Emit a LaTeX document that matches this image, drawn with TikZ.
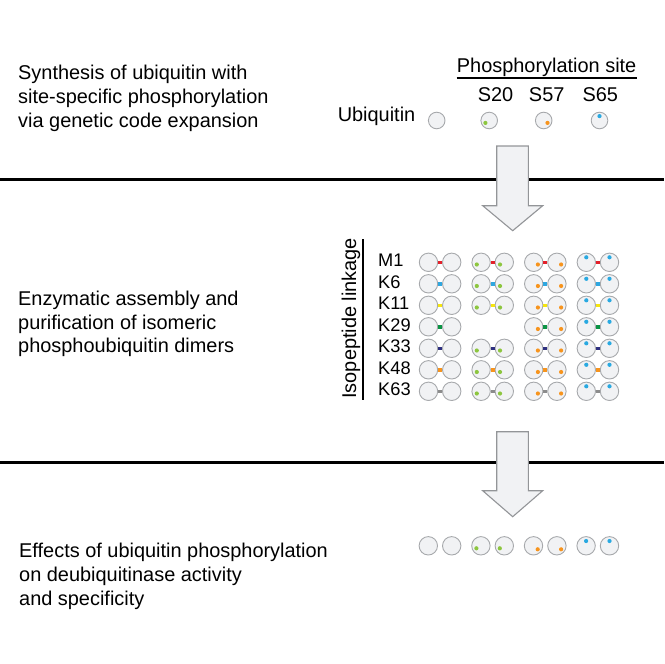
\documentclass[tikz,border=0pt]{standalone}
\usepackage{fontspec}
\setmainfont{Liberation Sans}
\definecolor{ubfill}{HTML}{F1F2F4}
\definecolor{ubline}{HTML}{A7A9AC}
\definecolor{arrline}{HTML}{939598}
\definecolor{lkred}{HTML}{E3202A}
\definecolor{lkblue}{HTML}{2FA7E0}
\definecolor{lkyellow}{HTML}{F5E50F}
\definecolor{lkgreen}{HTML}{0B9445}
\definecolor{lknavy}{HTML}{2E3080}
\definecolor{lkorange}{HTML}{F7941D}
\definecolor{lkgray}{HTML}{8C8C8C}
\definecolor{pgreen}{HTML}{8DC63F}
\definecolor{porange}{HTML}{F7941D}
\definecolor{pblue}{HTML}{29A9E1}
\begin{document}
\begin{tikzpicture}[x=1bp, y=-1bp,
        ub/.style={circle, draw=ubline, fill=ubfill, line width=0.9bp, minimum size=18.4bp, inner sep=0pt},
        ubmono/.style={ub, minimum size=16.6bp},
        site/.style={circle, fill=#1, inner sep=0pt, minimum size=4.2bp},
        link/.style={line width=3.4bp, draw=#1},
        txt/.style={font=\fontsize{20}{24}\selectfont, inner sep=0pt},
        steptext/.style={txt, align=left, anchor=north west},
        rowlbl/.style={font=\fontsize{18.3}{20}\selectfont, inner sep=0pt, anchor=base west},
        bigarrow/.style={draw=arrline, fill=ubfill, line width=1.1bp, line join=miter}]
    \useasboundingbox (0,0) rectangle (664,664);
    % section rules
    \draw[line width=3bp] (0,179.3) -- (664,179.3);
    \draw[line width=3bp] (0,462.3) -- (664,462.3);
    % step descriptions
    \node[steptext] (step1) at (18,65) {Synthesis of ubiquitin with\\site-specific phosphorylation\\via genetic code expansion};
    \node[steptext] (step2) at (18,290.5) {Enzymatic assembly and\\purification of isomeric\\phosphoubiquitin dimers};
    \node[steptext] (step3) at (19,543) {Effects of ubiquitin phosphorylation\\on deubiquitinase activity\\and specificity};
    % monomers
    \node[txt, anchor=base west] (phos) at (456.7,72.7) {Phosphorylation site};
    \draw[line width=1.6bp] ([yshift=-5.6bp]phos.base west) -- ([yshift=-5.6bp]phos.base east);
    \node[txt, anchor=base east] (ublbl) at (415.5,121.7) {Ubiquitin};
    \node[txt, anchor=base] (s20) at (495.5,101.7) {S20};
    \node[txt, anchor=base] (s57) at (546.7,101.7) {S57};
    \node[txt, anchor=base] (s65) at (600.3,101.7) {S65};
    \node[ubmono] (m0) at (436.7,120.5) {};
    \node[ubmono] (m1) at (489.2,120.5) {};
    \node[ubmono] (m2) at (543.7,120.5) {};
    \node[ubmono] (m3) at (599.5,120.5) {};
    \node[site=pgreen] (m1p) at ([shift={(-3.8,2.4)}]m1.center) {};
    \node[site=porange] (m2p) at ([shift={(3.8,2.4)}]m2.center) {};
    \node[site=pblue] (m3p) at ([shift={(0,-4.4)}]m3.center) {};
    % arrows
    \draw[bigarrow] (496.7,146) -- (528.3,146) -- (528.3,205.7) -- (542.7,205.7) -- (512.7,230.7)
        -- (482.7,205.7) -- (496.7,205.7) -- cycle;
    \draw[bigarrow] (496.7,431.7) -- (528.3,431.7) -- (528.3,490.7) -- (542.7,490.7) -- (512.7,516.7)
        -- (482.7,490.7) -- (496.7,490.7) -- cycle;
    % dimers
    \node[font=\fontsize{20}{24}\selectfont, rotate=90, anchor=base, inner sep=0pt] (iso) at (356,318.3) {Isopeptide linkage};
    \draw[line width=2bp] (362.7,239) -- (362.7,400);
    \foreach \lk/\col [count=\r] in {M1/lkred, K6/lkblue, K11/lkyellow, K29/lkgreen, K33/lknavy, K48/lkorange, K63/lkgray} {
        \node[rowlbl] (row\r) at (378,{262.3+21.5*(\r-1)+4.5}) {\lk};
        \foreach \pc/\sx/\sy [count=\c] in {none/0/0, pgreen/-4.3/2.2, porange/4.2/2.2, pblue/0/-5} {
            \ifnum\r\c=42 \else
                \node[ub] (d\r\c a) at ({428.5+52.6*(\c-1)},{262.3+21.5*(\r-1)}) {};
                \node[ub] (d\r\c b) at ({451.7+52.6*(\c-1)},{262.3+21.5*(\r-1)}) {};
                \draw[link=\col] (d\r\c a.east) -- (d\r\c b.west);
                \ifnum\c>1
                    \node[site=\pc] at ([shift={(\sx,\sy)}]d\r\c a.center) {};
                    \node[site=\pc] at ([shift={(\sx,\sy)}]d\r\c b.center) {};
                \fi
            \fi
        }
    }
    % monomer panel
    \foreach \pc/\sx/\sy [count=\c] in {none/0/0, pgreen/-4.5/2.5, porange/4.2/3.5, pblue/0/-4.8} {
        \node[ub] (e\c a) at ({428.3+52.6*(\c-1)},545.8) {};
        \node[ub] (e\c b) at ({451.7+52.6*(\c-1)},545.8) {};
        \ifnum\c>1
            \node[site=\pc] at ([shift={(\sx,\sy)}]e\c a.center) {};
            \node[site=\pc] at ([shift={(\sx,\sy)}]e\c b.center) {};
        \fi
    }
\end{tikzpicture}
\end{document}
